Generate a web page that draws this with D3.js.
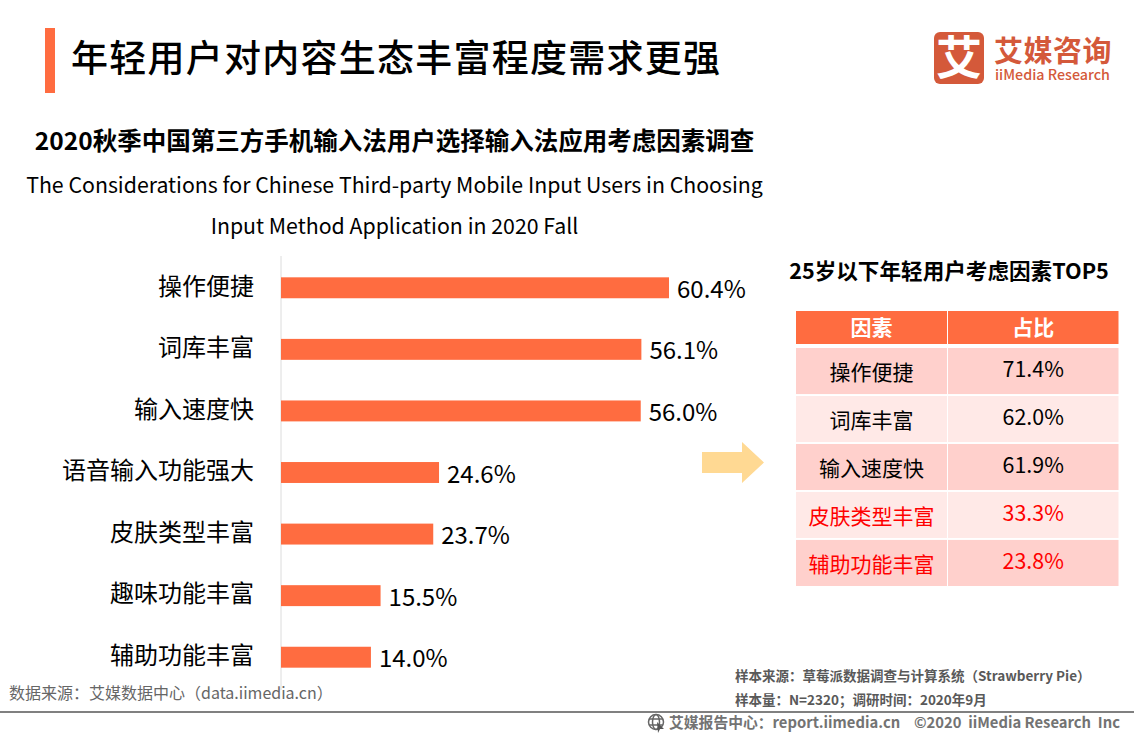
<!DOCTYPE html>
<html>
<head>
<meta charset="utf-8">
<script src="https://d3js.org/d3.v7.min.js"></script>
<style>
	html, body { margin: 0; padding: 0; background: #fff; }
	svg { display: block; }
	text { font-family: "Noto Sans CJK SC", "Noto Sans", sans-serif; white-space: pre; }
</style>
</head>
<body>
<div id="chart"></div>
<script>
// main bar chart
const categories = ["操作便捷", "词库丰富", "输入速度快", "语音输入功能强大", "皮肤类型丰富", "趣味功能丰富", "辅助功能丰富"];
const shares = [60.4, 56.1, 56.0, 24.6, 23.7, 15.5, 14.0];

// top5 table
const tableHeaders = ["因素", "占比"];
const tableFactors = ["操作便捷", "词库丰富", "输入速度快", "皮肤类型丰富", "辅助功能丰富"];
const tableShares = [71.4, 62.0, 61.9, 33.3, 23.8];
const redFactors = ["皮肤类型丰富", "辅助功能丰富"];

const width = 1134, height = 737;
const orange = "#ff6c40";

const svg = d3.select("#chart").append("svg").attr("width", width).attr("height", height);

function label(txt, x, y, size, opts) {
	opts = opts || {};
	return svg.append("text").attr("x", x).attr("y", y)
		.attr("font-size", size)
		.attr("font-weight", opts.weight || 400)
		.attr("fill", opts.fill || "#000")
		.attr("text-anchor", opts.anchor || "start")
		.attr("letter-spacing", opts.spacing || 0)
		.text(txt);
}

// heading
svg.append("rect").attr("x", 45).attr("y", 28).attr("width", 10).attr("height", 65).attr("fill", orange);
label("年轻用户对内容生态丰富程度需求更强", 71, 72, 37, {weight: 500, spacing: 1.25});

// logo
svg.append("rect").attr("x", 934).attr("y", 32).attr("width", 50).attr("height", 52).attr("rx", 6).attr("fill", "#d4593a");
label("艾", 959, 74, 46, {weight: 700, fill: "#fff", anchor: "middle"});
label("艾媒咨询", 994, 62, 29, {weight: 700, fill: "#d4593a", spacing: 0.5});
label("iiMedia Research", 995, 80, 14.3, {weight: 500, fill: "#d4593a"});

// chart titles
label("2020秋季中国第三方手机输入法用户选择输入法应用考虑因素调查", 394.5, 150, 24.5, {weight: 700, anchor: "middle"});
label("The Considerations for Chinese Third-party Mobile Input Users in Choosing", 394.5, 193, 21.3, {anchor: "middle"});
label("Input Method Application in 2020 Fall", 394.5, 234, 21.3, {anchor: "middle"});

// bars
const xScale = d3.scaleLinear().domain([0, 60.4]).range([281, 669]);
const yScale = d3.scaleBand().domain(categories).range([257, 688]).paddingInner(0.66).paddingOuter(0.33);

const yAxis = svg.append("g").attr("transform", "translate(281,0)")
	.call(d3.axisLeft(yScale).tickSize(0).tickPadding(27));
yAxis.select(".domain").attr("stroke", "#dcdcdc").attr("d", "M0,256V690");
yAxis.selectAll("text").attr("font-size", 24).attr("fill", "#000")
	.attr("font-family", null).attr("dy", "0.28em");

svg.selectAll(".bar").data(shares).enter().append("rect")
	.attr("class", "bar")
	.attr("x", xScale(0))
	.attr("y", (d, i) => yScale(categories[i]))
	.attr("width", d => xScale(d) - xScale(0))
	.attr("height", yScale.bandwidth())
	.attr("fill", orange);

svg.selectAll(".barlabel").data(shares).enter().append("text")
	.attr("class", "barlabel")
	.attr("x", d => xScale(d) + 8)
	.attr("y", (d, i) => yScale(categories[i]) + yScale.bandwidth() / 2 + 10)
	.attr("font-size", 24)
	.text(d => d.toFixed(1) + "%");

// arrow
svg.append("path").attr("d", "M702,452H742V442L764,462.500L742,483V473H702Z").attr("fill", "#ffd993");

// table
label("25岁以下年轻用户考虑因素TOP5", 949, 278.5, 21.6, {weight: 700, anchor: "middle"});

// the two columns are not the same width
const colLeft = d3.scaleOrdinal().domain(tableHeaders).range([796, 948]);
const colWidth = d3.scaleOrdinal().domain(tableHeaders).range([151, 170.5]);
const colMid = h => colLeft(h) + colWidth(h) / 2;
const rowScale = d3.scaleBand().domain(tableFactors).range([348, 586]).paddingInner(0.04).paddingOuter(0);

svg.selectAll(".head").data(tableHeaders).enter().append("rect")
	.attr("class", "head")
	.attr("x", d => colLeft(d)).attr("y", 311)
	.attr("width", d => colWidth(d)).attr("height", 33)
	.attr("fill", orange);
svg.selectAll(".headtext").data(tableHeaders).enter().append("text")
	.attr("class", "headtext")
	.attr("x", d => colMid(d)).attr("y", 335)
	.attr("text-anchor", "middle").attr("font-size", 21).attr("font-weight", 700).attr("fill", "#fff")
	.text(d => d);

tableFactors.forEach(function(f, i) {
	const rowFill = i % 2 == 0 ? "#ffd0cc" : "#ffe9e7";
	const txtFill = redFactors.includes(f) ? "#ff0000" : "#000";
	tableHeaders.forEach(function(h) {
		svg.append("rect").attr("class", "cell")
			.attr("x", colLeft(h)).attr("y", rowScale(f))
			.attr("width", colWidth(h)).attr("height", rowScale.bandwidth())
			.attr("fill", rowFill);
	});
	const mid = rowScale(f) + rowScale.bandwidth() / 2;
	label(f, colMid(tableHeaders[0]), mid + 9, 21, {anchor: "middle", fill: txtFill});
	label(tableShares[i].toFixed(1) + "%", colMid(tableHeaders[1]), mid + 6, 21.4, {anchor: "middle", fill: txtFill});
});

// footer
label("数据来源：艾媒数据中心（data.iimedia.cn）", 9, 699, 16, {fill: "#666"});
label("样本来源：草莓派数据调查与计算系统（Strawberry Pie）", 735, 681, 13.5, {weight: 700, fill: "#595959"});
label("样本量：N=2320；调研时间：2020年9月", 735, 705, 13.5, {weight: 700, fill: "#595959"});
svg.append("line").attr("x1", 0).attr("x2", width).attr("y1", 712).attr("y2", 712).attr("stroke", "#808080").attr("stroke-width", 2);

// globe icon
const icon = svg.append("g").attr("fill", "none").attr("stroke", "#666").attr("stroke-width", 1.5);
icon.append("circle").attr("cx", 656).attr("cy", 722).attr("r", 7.500);
icon.append("ellipse").attr("cx", 656).attr("cy", 722).attr("rx", 3.500).attr("ry", 7.500);
icon.append("path").attr("d", "M649,719H663M649,725H663");
svg.append("path").attr("d", "M657,722L664,729L660,729L658,733Z").attr("fill", "#555");

label("艾媒报告中心：report.iimedia.cn", 669, 728, 14.8, {weight: 700, fill: "#737373"});
label("©2020  iiMedia Research  Inc", 914, 728, 14.8, {weight: 700, fill: "#737373"});
</script>
</body>
</html>
